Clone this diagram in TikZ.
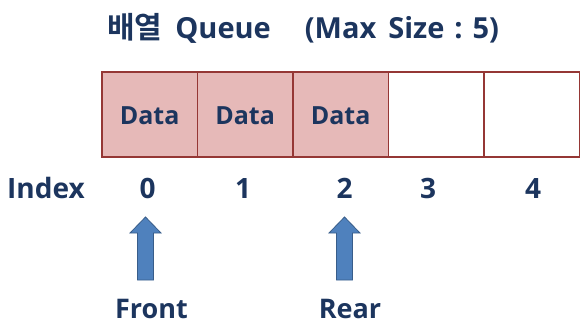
\documentclass[tikz,border=0pt]{standalone}
\usepackage{fontspec}
\setmainfont{Open Sans}
\newfontfamily\krfont{Noto Sans CJK KR}[BoldFont={Noto Sans CJK KR Bold}]
\definecolor{ink}{HTML}{1C355E}
\definecolor{cellfill}{HTML}{E6B9B8}
\definecolor{cellline}{HTML}{953735}
\definecolor{arrowfill}{HTML}{4F81BD}
\definecolor{arrowline}{HTML}{385D8A}
\newcommand{\fsz}[1]{\fontsize{#1}{#1}\selectfont}
\tikzset{
  txt/.style={text=ink, font=\bfseries\fsz{27}, inner sep=0pt, anchor=base},
  titletxt/.style={txt, font=\bfseries\fsz{29}},
  datatxt/.style={txt, font=\bfseries\fsz{25}},
  idxtxt/.style={txt, font=\bfseries\fsz{28}},
  cell/.style={draw=cellline, line width=1.8pt, minimum width=95.5pt, minimum height=85pt, inner sep=0pt, anchor=north west},
  used/.style={cell, fill=cellfill},
  blockarrow/.style={fill=arrowfill, draw=arrowline, line width=0.8pt, line join=miter}
}
\begin{document}
\begin{tikzpicture}[x=1pt, y=-1pt]
  \useasboundingbox (0,0) rectangle (586,332);
  % title
  \node[titletxt, anchor=base west] (title) at (107,38)
    {{\krfont\fsz{30}배열}\hspace{13pt}Queue\hspace{34pt}(Max\hspace{12pt}Size\hspace{10pt}:\hspace{10pt}5)};
  % array cells
  \node[used] (c0) at (101,71) {};
  \node[used] (c1) at (196.5,71) {};
  \node[used] (c2) at (292,71) {};
  \node[cell] (c3) at (387.5,71) {};
  \node[cell] (c4) at (483,71) {};
  \node[datatxt] (d0) at (c0.center |- 0,124) {Data};
  \node[datatxt] (d1) at (c1.center |- 0,124) {Data};
  \node[datatxt] (d2) at (c2.center |- 0,124) {Data};
  % index row
  \node[idxtxt] (index) at (46,198) {Index};
  \node[idxtxt] (i0) at (147.5,198) {0};
  \node[idxtxt] (i1) at (243,198) {1};
  \node[idxtxt] (i2) at (344.5,198) {2};
  \node[idxtxt] (i3) at (428,198) {3};
  \node[idxtxt] (i4) at (533,198) {4};
  % pointer labels
  \node[txt] (front) at (151.5,318) {Front};
  \node[txt] (rear) at (350,318) {Rear};
  % pointer arrows
  \coordinate (fa) at (145.5,280);
  \coordinate (ra) at (344.5,280);
  \foreach \p in {fa,ra}
    \draw[blockarrow] (\p) ++(-8,0) -- ++(0,-47) -- ++(-7.5,0) -- ++(15.5,-16)
      -- ++(15.5,16) -- ++(-7.5,0) -- ++(0,47) -- cycle;
\end{tikzpicture}
\end{document}
